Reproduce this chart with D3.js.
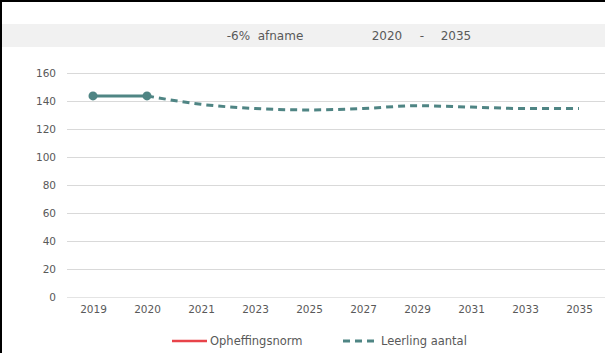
<!DOCTYPE html>
<html lang="nl">
<head>
    <meta charset="UTF-8">
    <title>Leerling aantal</title>
    <script src="https://cdn.jsdelivr.net/npm/d3@7"></script>
    <style>
        body{margin:0;background:#fff;}
        text{font-family:"DejaVu Sans",sans-serif;fill:#595959;white-space:pre;}
    </style>
</head>
<body>
    <script>
        var width=605, height=353;
        var years=["2019","2020","2021","2023","2025","2027","2029","2031","2033","2035"];
        // gemeten aantallen (doorgetrokken lijn)
        var actualYears=["2019","2020"];
        var actualValues=[144,144];
        // prognose (stippellijn)
        var forecastYears=["2020","2021","2023","2025","2027","2029","2031","2033","2035"];
        var forecastValues=[144,138,135,134,135,137,136,135,135];
        var yTicks=[0,20,40,60,80,100,120,140,160];
        var legendLabels=["Opheffingsnorm","Leerling aantal"];
        var teal="#4f8584", red="#e8434a";

        var svg=d3.select("body").append("svg").attr("width",width).attr("height",height);

        //kader
        svg.append("line").attr("x1",0).attr("x2",width).attr("y1",1).attr("y2",1).attr("stroke","#000").attr("stroke-width",2);
        svg.append("line").attr("x1",1).attr("x2",1).attr("y1",0).attr("y2",height).attr("stroke","#000").attr("stroke-width",2);

        //titelbalk
        svg.append("rect").attr("x",2).attr("y",24).attr("width",width-2).attr("height",23).attr("fill","#f1f1f1");
        var title=svg.append("g").attr("font-size",12);
        title.append("text").attr("x",265).attr("y",40).attr("text-anchor","middle").text("-6%  afname");
        title.append("text").attr("x",387).attr("y",40).attr("text-anchor","middle").text("2020");
        title.append("text").attr("x",422).attr("y",40).attr("text-anchor","middle").text("-");
        title.append("text").attr("x",456).attr("y",40).attr("text-anchor","middle").text("2035");

        var xScale=d3.scalePoint().domain(years).range([93,579]);
        var yScale=d3.scaleLinear().domain([0,160]).range([297.5,73.5]);

        //rasterlijnen
        svg.append("g").selectAll("line").data(yTicks).enter().append("line")
            .attr("x1",67).attr("x2",width)
            .attr("y1",function(d){return yScale(d);}).attr("y2",function(d){return yScale(d);})
            .attr("stroke",function(d){return d===0?"#e4e4e4":"#d9d9d9";}).attr("stroke-width",1);

        var yAxis=d3.axisLeft(yScale).tickValues(yTicks).tickSize(0).tickPadding(0);
        var gy=svg.append("g").attr("transform","translate(56,0)").call(yAxis);
        gy.select(".domain").remove();
        gy.selectAll("text").attr("font-size",10.5).attr("font-family",null).attr("fill","#595959");

        var xAxis=d3.axisBottom(xScale).tickSize(0).tickPadding(0);
        var gx=svg.append("g").attr("transform","translate(0,306)").call(xAxis);
        gx.select(".domain").remove();
        gx.selectAll("text").attr("font-size",10.5).attr("font-family",null).attr("fill","#595959");

        //prognose
        var line=d3.line()
            .x(function(d){return xScale(d[0]);})
            .y(function(d){return yScale(d[1]);})
            .curve(d3.curveMonotoneX);
        svg.append("path").datum(d3.zip(forecastYears,forecastValues))
            .attr("d",line).attr("fill","none").attr("stroke",teal)
            .attr("stroke-width",3).attr("stroke-dasharray","7,5");

        //gemeten
        var actual=d3.zip(actualYears,actualValues);
        svg.append("path").datum(actual)
            .attr("d",d3.line().x(function(d){return xScale(d[0]);}).y(function(d){return yScale(d[1]);}))
            .attr("fill","none").attr("stroke",teal).attr("stroke-width",3);
        svg.selectAll("circle").data(actual).enter().append("circle")
            .attr("cx",function(d){return xScale(d[0]);})
            .attr("cy",function(d){return yScale(d[1]);})
            .attr("r",4.5).attr("fill",teal);

        //legenda
        var legend=svg.append("g").attr("font-size",11.5);
        legend.append("line").attr("x1",172).attr("x2",207).attr("y1",341).attr("y2",341)
            .attr("stroke",red).attr("stroke-width",2.5);
        legend.append("text").attr("x",210).attr("y",345).text(legendLabels[0]);
        legend.append("line").attr("x1",343).attr("x2",378).attr("y1",341).attr("y2",341)
            .attr("stroke",teal).attr("stroke-width",3).attr("stroke-dasharray","7,5");
        legend.append("text").attr("x",381).attr("y",345).text(legendLabels[1]);
    </script>
</body>
</html>
